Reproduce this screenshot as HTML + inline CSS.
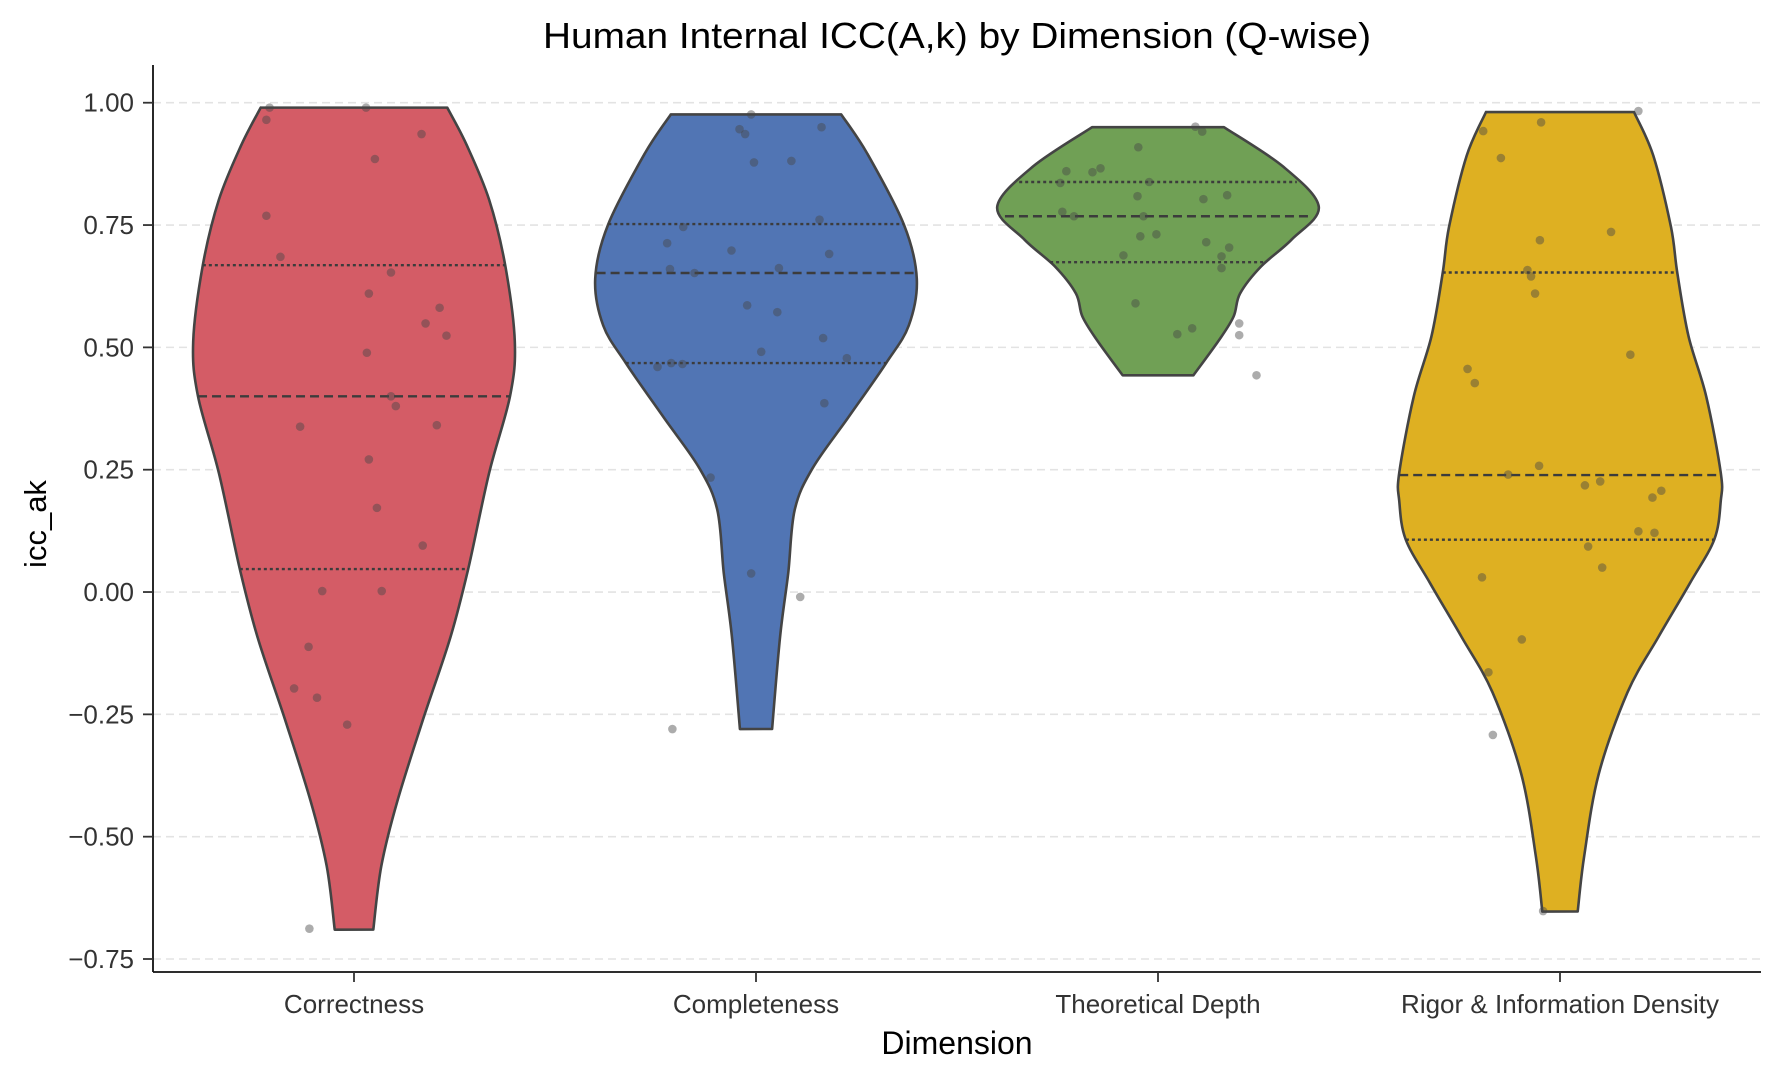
<!DOCTYPE html>
<html><head><meta charset="utf-8">
<style>
html,body{margin:0;padding:0;background:#fff;}
svg{display:block;font-family:"Liberation Sans",Arial,sans-serif;}
</style></head>
<body>
<svg id="chart" width="1780" height="1080" viewBox="0 0 1780 1080"></svg>
<script>
const categories = ["Correctness","Completeness","Theoretical Depth","Rigor & Information Density"];
const colors = ["#d45c66","#5175b4","#70a055","#deb022"];
const yTicks = [-0.75,-0.5,-0.25,0,0.25,0.5,0.75,1.0];
const yTickLabels = ["\u22120.75","\u22120.50","\u22120.25","0.00","0.25","0.50","0.75","1.00"];

// violin density profiles: values and relative half-widths
const profV0 = [0.99,0.914,0.802,0.668,0.512,0.40,0.243,0.047,-0.092,-0.26,-0.427,-0.56,-0.69];
const profW0 = [0.58,0.70,0.84,0.94,1.0,0.97,0.84,0.71,0.60,0.43,0.27,0.17,0.12];
const profV1 = [0.976,0.897,0.751,0.64,0.545,0.468,0.355,0.252,0.167,0.038,-0.091,-0.28];
const profW1 = [0.53,0.69,0.92,1.0,0.95,0.81,0.57,0.35,0.24,0.20,0.15,0.10];
const profV2 = [0.95,0.869,0.787,0.72,0.665,0.61,0.563,0.515,0.443];
const profW2 = [0.41,0.78,1.0,0.83,0.64,0.51,0.47,0.38,0.22];
const profV3 = [0.981,0.892,0.746,0.651,0.522,0.399,0.243,0.187,0.108,0.019,-0.093,-0.205,-0.373,-0.541,-0.653];
const profW3 = [0.46,0.58,0.69,0.73,0.80,0.91,1.0,1.0,0.96,0.81,0.61,0.42,0.24,0.15,0.11];

// quartiles [q1, median, q3]
const quart0 = [0.047,0.40,0.668];
const quart1 = [0.468,0.652,0.752];
const quart2 = [0.674,0.768,0.838];
const quart3 = [0.107,0.239,0.653];

// observations
const pts0 = [0.99,0.99,0.965,0.936,0.885,0.769,0.685,0.653,0.61,0.581,0.549,0.524,0.489,0.40,0.38,0.338,0.341,0.271,0.172,0.095,0.002,0.002,-0.112,-0.197,-0.216,-0.271,-0.688];
const jit0 = [-0.21,0.03,-0.218,0.168,0.052,-0.218,-0.183,0.092,0.037,0.213,0.178,0.23,0.032,0.092,0.104,-0.134,0.206,0.037,0.057,0.171,-0.079,0.069,-0.113,-0.149,-0.092,-0.017,-0.111];
const pts1 = [0.976,0.946,0.936,0.95,0.878,0.881,0.761,0.746,0.713,0.698,0.691,0.66,0.652,0.662,0.586,0.572,0.519,0.491,0.478,0.46,0.468,0.466,0.386,0.234,0.038,-0.01,-0.28];
const jit1 = [-0.012,-0.041,-0.027,0.163,-0.005,0.088,0.158,-0.181,-0.221,-0.061,0.182,-0.214,-0.153,0.057,-0.022,0.053,0.167,0.013,0.226,-0.245,-0.211,-0.183,0.17,-0.113,-0.012,0.11,-0.208];
const pts2 = [0.951,0.941,0.909,0.86,0.858,0.866,0.836,0.838,0.809,0.803,0.811,0.777,0.768,0.768,0.727,0.731,0.715,0.704,0.688,0.686,0.662,0.59,0.549,0.525,0.539,0.527,0.443];
const jit2 = [0.093,0.11,-0.049,-0.228,-0.163,-0.143,-0.243,-0.022,-0.051,0.113,0.172,-0.238,-0.209,-0.036,-0.044,-0.004,0.12,0.177,-0.086,0.158,0.158,-0.056,0.202,0.202,0.085,0.048,0.245];
const pts3 = [0.983,0.96,0.942,0.887,0.736,0.719,0.658,0.645,0.61,0.485,0.456,0.427,0.258,0.24,0.218,0.226,0.193,0.207,0.124,0.121,0.093,0.05,0.03,-0.097,-0.164,-0.292,-0.652];
const jit3 = [0.195,-0.047,-0.191,-0.147,0.127,-0.05,-0.081,-0.072,-0.062,0.175,-0.23,-0.212,-0.052,-0.129,0.062,0.1,0.23,0.252,0.195,0.235,0.07,0.105,-0.194,-0.095,-0.178,-0.167,-0.042];

const profVs=[profV0,profV1,profV2,profV3], profWs=[profW0,profW1,profW2,profW3];
const quarts=[quart0,quart1,quart2,quart3];
const ptsAll=[pts0,pts1,pts2,pts3], jitAll=[jit0,jit1,jit2,jit3];

const plotL=153, plotR=1761, plotT=65, plotB=972;
const yMin=-0.75, yMax=1.0;
const y0=959, yPer=489.3;
function yScale(v){ return y0 - (v - yMin)*yPer; }
const band=(plotR-plotL)/4;
function xScale(i){ return plotL + band*(i+0.5); }
const maxHalf = band*0.4;

const NS="http://www.w3.org/2000/svg";
const svg=document.getElementById('chart');
function mk(tag, attrs, parent){
  const e=document.createElementNS(NS,tag);
  for(const k in attrs) e.setAttribute(k, attrs[k]);
  (parent||svg).appendChild(e);
  return e;
}

const grid=mk('g',{});


yTicks.forEach(t=>{
  const l=mk('line',{x1:plotL,x2:plotR,y1:yScale(t),y2:yScale(t),stroke:'#e3e3e3','stroke-width':1.6,'stroke-dasharray':'8,5'},grid);
  
  
});

function widthAt(vs, ws, v){
  for(let i=0;i<vs.length-1;i++){
    const a=vs[i], b=vs[i+1];
    if((v<=a && v>=b)){ const t=(a-v)/(a-b); return ws[i]+(ws[i+1]-ws[i])*t; }
  }
  return ws[ws.length-1];
}
function smoothPath(pts){
  let d='';
  for(let i=0;i<pts.length-1;i++){
    const p0=pts[Math.max(0,i-1)], p1=pts[i], p2=pts[i+1], p3=pts[Math.min(pts.length-1,i+2)];
    const c1=[p1[0]+(p2[0]-p0[0])/6, p1[1]+(p2[1]-p0[1])/6];
    const c2=[p2[0]-(p3[0]-p1[0])/6, p2[1]-(p3[1]-p1[1])/6];
    d+=` C${c1[0].toFixed(1)},${c1[1].toFixed(1)} ${c2[0].toFixed(1)},${c2[1].toFixed(1)} ${p2[0].toFixed(1)},${p2[1].toFixed(1)}`;
  }
  return d;
}

categories.forEach((cat,i)=>{
  const cx=xScale(i), vs=profVs[i], ws=profWs[i];
  const g=mk('g',{});
  
  
  const right=vs.map((v,k)=>[cx+ws[k]*maxHalf, yScale(v)]);
  const left=vs.map((v,k)=>[cx-ws[k]*maxHalf, yScale(v)]).reverse();
  let d=`M${left[left.length-1][0]},${left[left.length-1][1]} L${right[0][0]},${right[0][1]}`+smoothPath(right)+
        ` L${left[0][0]},${left[0][1]}`+smoothPath(left)+' Z';
  const body=mk('path',{d:d,fill:colors[i],stroke:'#444','stroke-width':2.6,'stroke-linejoin':'round'},g);
  
  
  quarts[i].forEach((q,k)=>{
    const w=widthAt(vs,ws,q)*maxHalf;
    const ln=mk('line',{x1:cx-w,x2:cx+w,y1:yScale(q),y2:yScale(q),stroke:'#3c3c3c','stroke-width':2.4,
      'stroke-dasharray': k===1?'9,5':'3,3'},g);
    
    
  });
});

categories.forEach((cat,i)=>{
  const g=mk('g',{});
  
  
  ptsAll[i].forEach((v,k)=>{
    const c=mk('circle',{cx:xScale(i+jitAll[i][k]),cy:yScale(v),r:4.3,fill:'rgba(70,70,70,0.45)'},g);
    
    
  });
});

const ax=mk('g',{});


const ls=mk('line',{x1:plotL,x2:plotL,y1:plotT,y2:plotB,stroke:'#111','stroke-width':1.8},ax);


const bs=mk('line',{x1:plotL,x2:plotR,y1:plotB,y2:plotB,stroke:'#111','stroke-width':1.8},ax);


yTicks.forEach((t,k)=>{
  const tm=mk('line',{x1:plotL-10,x2:plotL,y1:yScale(t),y2:yScale(t),stroke:'#333','stroke-width':1.8},ax);
  
  
  const tx=mk('text',{x:plotL-19,y:yScale(t)+9,'text-anchor':'end','font-size':26,fill:'#333'},ax);
  tx.textContent=yTickLabels[k];
  
  
});
categories.forEach((cat,i)=>{
  const tm=mk('line',{x1:xScale(i),x2:xScale(i),y1:plotB,y2:plotB+10,stroke:'#333','stroke-width':1.8},ax);
  
  
  const tx=mk('text',{x:xScale(i),y:1013,'text-anchor':'middle','font-size':26,fill:'#333'},ax);
  tx.textContent=cat;
  
  
});

function t2(txt, attrs, name){
  const e=document.createElementNS(NS,'text');
  for(const k in attrs) e.setAttribute(k,attrs[k]);
  e.textContent=txt;
  
  
  svg.appendChild(e);
}
t2("Human Internal ICC(A,k) by Dimension (Q-wise)",{x:957,y:48,'text-anchor':'middle','font-size':36,fill:'#000',textLength:828,lengthAdjust:'spacingAndGlyphs'},'chart-title');
t2("Dimension",{x:957,y:1054,'text-anchor':'middle','font-size':32,fill:'#000'},'x-axis-title');
t2("icc_ak",{x:46,y:524,'text-anchor':'middle','font-size':31,fill:'#000',transform:'rotate(-90 46 524)'},'y-axis-title');
</script>
</body></html>
